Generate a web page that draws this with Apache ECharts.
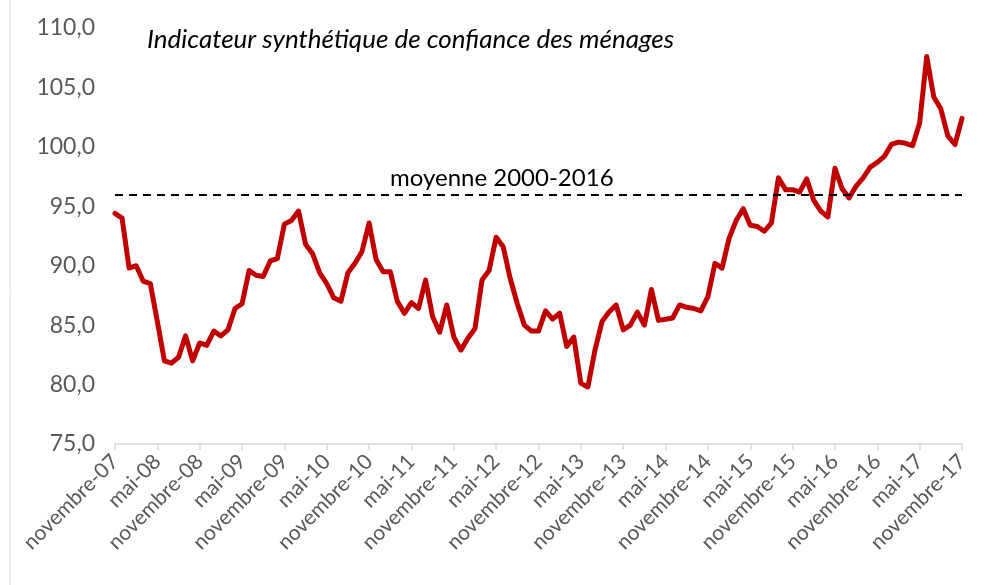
<!DOCTYPE html>
<html>
<head>
<meta charset="utf-8">
<script src="https://cdn.jsdelivr.net/npm/echarts@6/dist/echarts.min.js"></script>
<style>
    html, body { margin: 0; padding: 0; background: #fff; }
    #chart { width: 987px; height: 585px; }
</style>
</head>
<body>
<div id="chart"></div>
<script>
    // mois (novembre 2007 -> novembre 2017)
    const moisNoms = ['janvier', 'février', 'mars', 'avril', 'mai', 'juin', 'juillet',
        'août', 'septembre', 'octobre', 'novembre', 'décembre'];
    const categories = [];
    for (let i = 0; i < 121; i++) {
        const m = (10 + i) % 12;
        const a = 7 + Math.floor((10 + i) / 12);
        categories.push(moisNoms[m] + '-' + String(a).padStart(2, '0'));
    }

    // indicateur synthétique
    const confiance = [
        94.4, 94.0, 89.8, 90.0, 88.7, 88.5, 85.3, 82.0, 81.8, 82.3, 84.1, 82.0,
        83.5, 83.3, 84.5, 84.1, 84.6, 86.4, 86.8, 89.6, 89.2, 89.1, 90.4, 90.6,
        93.5, 93.8, 94.6, 91.8, 91.0, 89.4, 88.5, 87.3, 87.0, 89.4, 90.2, 91.2,
        93.6, 90.5, 89.5, 89.5, 87.0, 86.0, 86.9, 86.4, 88.8, 85.7, 84.4, 86.7,
        84.0, 82.9, 83.9, 84.7, 88.8, 89.6, 92.4, 91.6, 88.9, 86.8, 85.0, 84.5,
        84.5, 86.2, 85.5, 86.0, 83.2, 84.0, 80.1, 79.8, 82.9, 85.3, 86.1, 86.7,
        84.6, 85.0, 86.1, 85.0, 88.0, 85.4, 85.5, 85.6, 86.7, 86.5, 86.4, 86.2,
        87.4, 90.2, 89.8, 92.3, 93.8, 94.8, 93.4, 93.3, 92.9, 93.6, 97.4, 96.4,
        96.4, 96.2, 97.3, 95.5, 94.6, 94.1, 98.2, 96.5, 95.7, 96.7, 97.4, 98.3,
        98.7, 99.2, 100.2, 100.4, 100.3, 100.1, 102.0, 107.6, 104.2, 103.2, 100.9, 100.2,
        102.4
    ];
    const moyenne = 96;

    const chart = echarts.init(document.getElementById('chart'));
    const option = {
        animation: false,
        grid: { left: 115, right: 25, top: 28, bottom: 141 },
        xAxis: {
            type: 'category',
            data: categories,
            boundaryGap: false,
            axisLine: { lineStyle: { color: '#d9d9d9', width: 1.5 } },
            axisTick: { interval: 5, length: 6, lineStyle: { color: '#d9d9d9', width: 1.5 } },
            axisLabel: {
                interval: 5,
                rotate: 45,
                margin: 14,
                color: '#595959',
                fontSize: 21,
                fontFamily: 'Lato'
            }
        },
        yAxis: {
            type: 'value',
            min: 75,
            max: 110,
            interval: 5,
            axisLine: { show: false },
            axisTick: { show: false },
            splitLine: { show: false },
            axisLabel: {
                margin: 20,
                color: '#595959',
                fontSize: 23,
                fontFamily: 'Lato',
                formatter: v => v.toFixed(1).replace('.', ',')
            }
        },
        series: [{
            type: 'line',
            data: confiance,
            symbol: 'none',
            lineStyle: { color: '#c00000', width: 5, join: 'round', cap: 'round' },
            markLine: {
                silent: true,
                symbol: 'none',
                label: { show: false },
                lineStyle: { color: '#000', width: 2, type: [8, 6] },
                data: [{ yAxis: moyenne }]
            }
        }],
        graphic: [
            {
                type: 'text', left: 147, top: 27,
                style: {
                    text: 'Indicateur synthétique de confiance des ménages',
                    font: 'italic 26px Lato', fill: '#000'
                }
            },
            {
                type: 'text', left: 390, top: 166,
                style: { text: 'moyenne 2000-2016', font: '24px Lato', fill: '#000' }
            },
            {
                type: 'line',
                shape: { x1: 10, y1: 0, x2: 10, y2: 585 },
                style: { stroke: '#d9d9d9', lineWidth: 1 }
            }
        ]
    };
    chart.setOption(option);
</script>
</body>
</html>
